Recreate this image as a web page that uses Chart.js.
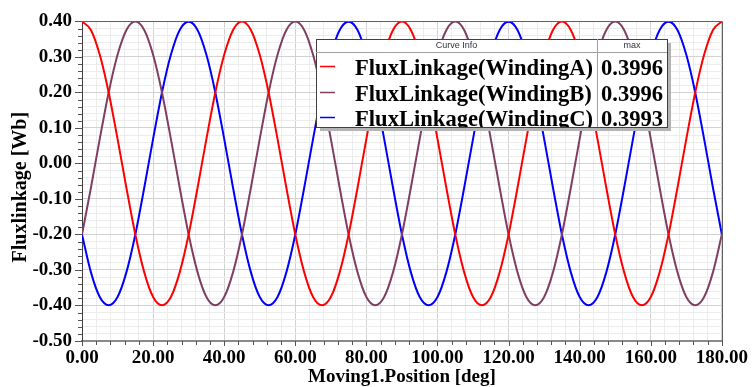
<!DOCTYPE html>
<html>
<head>
<meta charset="utf-8">
<script src="https://cdn.jsdelivr.net/npm/chart.js@4/dist/chart.umd.min.js"></script>
<style>
  html, body { margin: 0; padding: 0; background: #ffffff; }
  #wrap { width: 754px; height: 387px; }
</style>
</head>
<body>
<div id="wrap"><canvas id="flux" width="754" height="387"></canvas></div>
<script>
// Rotor position, degrees
const positions = [
  0, 2.5, 5, 7.5, 10, 12.5, 15, 17.5, 20, 22.5, 25, 27.5, 30, 32.5, 35, 37.5, 40, 42.5,
  45, 47.5, 50, 52.5, 55, 57.5, 60, 62.5, 65, 67.5, 70, 72.5, 75, 77.5, 80, 82.5, 85, 87.5,
  90, 92.5, 95, 97.5, 100, 102.5, 105, 107.5, 110, 112.5, 115, 117.5, 120, 122.5, 125, 127.5, 130, 132.5,
  135, 137.5, 140, 142.5, 145, 147.5, 150, 152.5, 155, 157.5, 160, 162.5, 165, 167.5, 170, 172.5, 175, 177.5,
  180
];

// Flux linkage of each winding, Wb
const fluxA = [
  0.3996, 0.376, 0.306, 0.200, 0.069, -0.069, -0.200, -0.306, -0.376, -0.3996, -0.376, -0.306, -0.200, -0.069, 0.069, 0.200, 0.306, 0.376,
  0.3996, 0.376, 0.306, 0.200, 0.069, -0.069, -0.200, -0.306, -0.376, -0.3996, -0.376, -0.306, -0.200, -0.069, 0.069, 0.200, 0.306, 0.376,
  0.3996, 0.376, 0.306, 0.200, 0.069, -0.069, -0.200, -0.306, -0.376, -0.3996, -0.376, -0.306, -0.200, -0.069, 0.069, 0.200, 0.306, 0.376,
  0.3996, 0.376, 0.306, 0.200, 0.069, -0.069, -0.200, -0.306, -0.376, -0.3996, -0.376, -0.306, -0.200, -0.069, 0.069, 0.200, 0.306, 0.376,
  0.3996
];
const fluxB = [
  -0.200, -0.069, 0.069, 0.200, 0.306, 0.376, 0.3996, 0.376, 0.306, 0.200, 0.069, -0.069, -0.200, -0.306, -0.376, -0.3996, -0.376, -0.306,
  -0.200, -0.069, 0.069, 0.200, 0.306, 0.376, 0.3996, 0.376, 0.306, 0.200, 0.069, -0.069, -0.200, -0.306, -0.376, -0.3996, -0.376, -0.306,
  -0.200, -0.069, 0.069, 0.200, 0.306, 0.376, 0.3996, 0.376, 0.306, 0.200, 0.069, -0.069, -0.200, -0.306, -0.376, -0.3996, -0.376, -0.306,
  -0.200, -0.069, 0.069, 0.200, 0.306, 0.376, 0.3996, 0.376, 0.306, 0.200, 0.069, -0.069, -0.200, -0.306, -0.376, -0.3996, -0.376, -0.306,
  -0.200
];
const fluxC = [
  -0.200, -0.306, -0.376, -0.3993, -0.376, -0.306, -0.200, -0.069, 0.069, 0.200, 0.306, 0.376, 0.3993, 0.376, 0.306, 0.200, 0.069, -0.069,
  -0.200, -0.306, -0.376, -0.3993, -0.376, -0.306, -0.200, -0.069, 0.069, 0.200, 0.306, 0.376, 0.3993, 0.376, 0.306, 0.200, 0.069, -0.069,
  -0.200, -0.306, -0.376, -0.3993, -0.376, -0.306, -0.200, -0.069, 0.069, 0.200, 0.306, 0.376, 0.3993, 0.376, 0.306, 0.200, 0.069, -0.069,
  -0.200, -0.306, -0.376, -0.3993, -0.376, -0.306, -0.200, -0.069, 0.069, 0.200, 0.306, 0.376, 0.3993, 0.376, 0.306, 0.200, 0.069, -0.069,
  -0.200
];

const seriesNames = ['FluxLinkage(WindingA)', 'FluxLinkage(WindingB)', 'FluxLinkage(WindingC)'];
const seriesColors = ['#ff0000', '#7f3f62', '#0000ff'];
const seriesValues = [fluxA, fluxB, fluxC];

const xTitle = 'Moving1.Position [deg]';
const yTitle = 'Fluxlinkage [Wb]';
const legendHeader = ['Curve Info', 'max'];

const SERIF = '"Liberation Serif", "Times New Roman", serif';
const SANS = '"Liberation Sans", Arial, sans-serif';

const isMultiple = (v, step) => Math.abs(v / step - Math.round(v / step)) < 1e-6;

// Outward tick marks on the left and bottom axes, the frame round the plot
// and the vertical axis title
const axisDecor = {
  id: 'axisDecor',
  afterDraw(chart) {
    const { ctx, chartArea: a, scales } = chart;
    ctx.save();
    ctx.strokeStyle = '#555555';
    ctx.lineWidth = 1;
    ctx.beginPath();
    scales.x.ticks.forEach(t => {
      const px = Math.round(scales.x.getPixelForValue(t.value)) + 0.5;
      const len = isMultiple(t.value, 20) ? 5 : 4;
      ctx.moveTo(px, a.bottom);
      ctx.lineTo(px, a.bottom + len);
    });
    scales.y.ticks.forEach(t => {
      const py = Math.round(scales.y.getPixelForValue(t.value)) + 0.5;
      const len = isMultiple(t.value, 0.1) ? 7 : 4;
      ctx.moveTo(a.left, py);
      ctx.lineTo(a.left - len, py);
    });
    ctx.stroke();
    // top and right frame
    ctx.strokeStyle = '#606060';
    ctx.beginPath();
    ctx.moveTo(a.left, Math.round(a.top) + 0.5);
    ctx.lineTo(a.right, Math.round(a.top) + 0.5);
    ctx.moveTo(Math.round(a.right) + 0.5, a.top);
    ctx.lineTo(Math.round(a.right) + 0.5, a.bottom);
    ctx.stroke();
    // vertical axis title
    ctx.translate(21, (a.top + a.bottom) / 2 + 6);
    ctx.rotate(-Math.PI / 2);
    ctx.fillStyle = '#000000';
    ctx.font = 'bold 20px ' + SERIF;
    ctx.textAlign = 'center';
    ctx.textBaseline = 'middle';
    ctx.fillText(yTitle, 0, 0);
    ctx.restore();
  }
};

// Curve info table with the maximum of each series
const curveInfo = {
  id: 'curveInfo',
  afterDraw(chart) {
    const { ctx } = chart;
    const x0 = 316, y0 = 39, w = 351, h = 88;
    const sep = 597, headerBottom = 52;
    ctx.save();
    // drop shadow
    ctx.fillStyle = '#b4b4b4';
    ctx.fillRect(x0 + 4, y0 + 4, w, h);
    ctx.fillStyle = '#ffffff';
    ctx.fillRect(x0, y0, w, h);
    ctx.strokeStyle = '#404040';
    ctx.lineWidth = 1;
    ctx.strokeRect(x0 + 0.5, y0 + 0.5, w, h);
    ctx.strokeStyle = '#a0a0a0';
    ctx.beginPath();
    ctx.moveTo(x0, headerBottom + 0.5);
    ctx.lineTo(x0 + w, headerBottom + 0.5);
    ctx.moveTo(sep + 0.5, y0);
    ctx.lineTo(sep + 0.5, y0 + h);
    ctx.stroke();

    ctx.fillStyle = '#333333';
    ctx.font = '9px ' + SANS;
    ctx.textAlign = 'center';
    ctx.textBaseline = 'middle';
    ctx.fillText(legendHeader[0], (x0 + sep) / 2, y0 + 7);
    ctx.fillText(legendHeader[1], (sep + x0 + w) / 2, y0 + 7);

    ctx.save();
    ctx.beginPath();
    ctx.rect(x0 + 1, y0 + 1, w - 1, h - 1);
    ctx.clip();
    const rowMid = [66, 92, 117];
    seriesNames.forEach((name, i) => {
      const y = rowMid[i];
      ctx.strokeStyle = seriesColors[i];
      ctx.lineWidth = 1.5;
      ctx.beginPath();
      ctx.moveTo(320, y + 0.5);
      ctx.lineTo(335, y + 0.5);
      ctx.stroke();
      ctx.fillStyle = '#000000';
      ctx.font = 'bold 22.6px ' + SERIF;
      ctx.textAlign = 'left';
      ctx.textBaseline = 'alphabetic';
      ctx.fillText(name, 355, y + 9);
      const peak = Math.max(...seriesValues[i]);
      ctx.fillText(peak.toFixed(4), 601, y + 9);
    });
    ctx.restore();
    ctx.restore();
  }
};

const datasets = seriesNames.map((name, i) => ({
  label: name,
  data: positions.map((p, k) => ({ x: p, y: seriesValues[i][k] })),
  borderColor: seriesColors[i],
  borderWidth: 2,
  pointRadius: 0,
  cubicInterpolationMode: 'monotone',
  fill: false
}));

new Chart(document.getElementById('flux'), {
  type: 'line',
  data: { datasets },
  plugins: [axisDecor, curveInfo],
  options: {
    responsive: false,
    animation: false,
    devicePixelRatio: 1,
    layout: { padding: { top: 17, right: 29, bottom: 0, left: 0 } },
    plugins: { legend: { display: false }, tooltip: { enabled: false } },
    scales: {
      x: {
        type: 'linear',
        min: 0,
        max: 180,
        afterFit(scale) { scale.height = 46; },
        ticks: {
          stepSize: 4,
          autoSkip: false,
          maxRotation: 0,
          padding: 6,
          color: '#000000',
          font: { family: SERIF, size: 19, weight: 'bold' },
          callback: v => isMultiple(v, 20) ? Number(v).toFixed(2) : ''
        },
        grid: {
          drawTicks: false,
          color: c => isMultiple(c.tick.value, 20) ? '#d2d2d2' : '#ececec',
          lineWidth: 1
        },
        border: { display: true, color: '#8a8a8a', width: 2 },
        title: {
          display: true,
          text: xTitle,
          color: '#000000',
          font: { family: SERIF, size: 19, weight: 'bold' },
          padding: { top: 0, bottom: -1 }
        }
      },
      y: {
        type: 'linear',
        min: -0.5,
        max: 0.4,
        afterFit(scale) { scale.width = 82; },
        ticks: {
          stepSize: 0.02,
          autoSkip: false,
          padding: 10,
          color: '#000000',
          font: { family: SERIF, size: 19, weight: 'bold' },
          callback: v => isMultiple(v, 0.1) ? Number(v).toFixed(2) : ''
        },
        grid: {
          drawTicks: false,
          color: c => isMultiple(c.tick.value, 0.1) ? '#d2d2d2' : '#ececec',
          lineWidth: 1
        },
        border: { display: true, color: '#404040', width: 1 },
        title: { display: false }
      }
    }
  }
});
</script>
</body>
</html>
